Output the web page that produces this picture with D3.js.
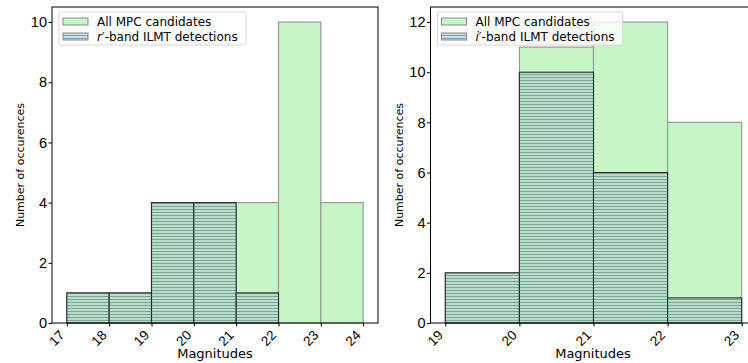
<!DOCTYPE html>
<html>
<head>
<meta charset="utf-8">
<script src="https://cdn.jsdelivr.net/npm/d3@7"></script>
<style>
  body { margin: 0; background: #fff; }
  svg { display: block; font-family: "DejaVu Sans", sans-serif; }
</style>
</head>
<body>
<svg id="chart" width="748" height="363"></svg>
<script>
// r'-band panel: bin edges and counts
const rEdges = [17, 18, 19, 20, 21, 22, 23, 24];
const rAllMPC = [1, 1, 4, 4, 4, 10, 4];
const rILMT = [1, 1, 4, 4, 1, 0, 0];
const rYTicks = [0, 2, 4, 6, 8, 10];

// i'-band panel: bin edges and counts
const iEdges = [19, 20, 21, 22, 23];
const iAllMPC = [2, 11, 12, 8];
const iILMT = [2, 10, 6, 1];
const iYTicks = [0, 2, 4, 6, 8, 10, 12];

const svg = d3.select("#chart");

// horizontal hatch used for the ILMT detection bars
const defs = svg.append("defs");
const pat = defs.append("pattern")
  .attr("id", "hhatch")
  .attr("patternUnits", "userSpaceOnUse")
  .attr("width", 6).attr("height", 3);
pat.append("rect").attr("width", 6).attr("height", 3).attr("fill", "#b5ddc9");
pat.append("rect").attr("y", 2).attr("width", 6).attr("height", 1).attr("fill", "#80a796");

const legPat = defs.append("pattern")
  .attr("id", "lhatch")
  .attr("patternUnits", "userSpaceOnUse")
  .attr("width", 6).attr("height", 3);
legPat.append("rect").attr("width", 6).attr("height", 3).attr("fill", "#c9dde8");
legPat.append("rect").attr("y", 2).attr("width", 6).attr("height", 1).attr("fill", "#8aa3b3");

function panel(opts) {
  const { left, right, top, bottom, edges, all, ilmt, yTicks, yMax, band } = opts;
  const lo = edges[0], hi = edges[edges.length - 1];
  const pad = (hi - lo) * 0.05;
  const x = d3.scaleLinear().domain([lo - pad, hi + pad]).range([left, right]);
  const y = d3.scaleLinear().domain([0, yMax]).range([bottom, top]);
  const g = svg.append("g");

  const bins = all.map((v, i) => ({ x0: edges[i], x1: edges[i + 1], v }));
  const dbins = ilmt.map((v, i) => ({ x0: edges[i], x1: edges[i + 1], v })).filter(d => d.v > 0);

  g.selectAll("rect.all").data(bins).enter().append("rect")
    .attr("class", "all")
    .attr("x", d => x(d.x0)).attr("width", d => x(d.x1) - x(d.x0))
    .attr("y", d => y(d.v)).attr("height", d => y(0) - y(d.v))
    .attr("fill", "#c6f5c6")
    .attr("stroke", "#9a9a9a").attr("stroke-width", 1.2);

  g.selectAll("rect.det").data(dbins).enter().append("rect")
    .attr("class", "det")
    .attr("x", d => x(d.x0)).attr("width", d => x(d.x1) - x(d.x0))
    .attr("y", d => y(d.v)).attr("height", d => y(0) - y(d.v))
    .attr("fill", "url(#hhatch)")
    .attr("stroke", "#2b2b2b").attr("stroke-width", 1.1);

  // frame
  g.append("rect")
    .attr("x", left).attr("y", top)
    .attr("width", right - left).attr("height", bottom - top)
    .attr("fill", "none").attr("stroke", "#000").attr("stroke-width", 1);

  // x axis
  const xa = g.append("g").attr("transform", `translate(0,${bottom})`)
    .call(d3.axisBottom(x).tickValues(edges).tickFormat(d3.format("d")).tickSizeOuter(0).tickSize(3.5));
  xa.select(".domain").remove();
  xa.selectAll("text")
    .attr("font-size", 13.5).attr("fill", "#000")
    .attr("text-anchor", "end")
    .attr("dy", 0).attr("y", 0)
    .attr("transform", "translate(-2,13) rotate(-45)");

  // y axis
  const ya = g.append("g").attr("transform", `translate(${left},0)`)
    .call(d3.axisLeft(y).tickValues(yTicks).tickFormat(d3.format("d")).tickSizeOuter(0).tickSize(3.5));
  ya.select(".domain").remove();
  ya.selectAll("text").attr("font-size", 14.5).attr("fill", "#000").attr("x", -5);

  // axis titles
  g.append("text")
    .attr("x", opts.titleX)
    .attr("y", 358).attr("text-anchor", "middle")
    .attr("font-size", 13).text("Magnitudes");
  g.append("text")
    .attr("transform", `translate(${left - 28},${(top + bottom) / 2}) rotate(-90)`)
    .attr("text-anchor", "middle").attr("font-size", 11)
    .text("Number of occurences");

  // legend
  const lx = left + 7, ly = top + 5, lw = opts.legendW;
  const lg = g.append("g");
  lg.append("rect").attr("x", lx).attr("y", ly).attr("width", lw).attr("height", 33)
    .attr("rx", 2).attr("fill", "#fff").attr("fill-opacity", 0.8)
    .attr("stroke", "#d6d6d6").attr("stroke-width", 1);
  lg.append("rect").attr("x", lx + 4).attr("y", ly + 6).attr("width", 25).attr("height", 7)
    .attr("fill", "#c6f5c6").attr("stroke", "#888").attr("stroke-width", 1);
  lg.append("rect").attr("x", lx + 4).attr("y", ly + 21).attr("width", 25).attr("height", 7)
    .attr("fill", "url(#lhatch)").attr("stroke", "#888").attr("stroke-width", 1);
  lg.append("text").attr("x", lx + 38).attr("y", ly + 13.5).attr("font-size", 12)
    .text("All MPC candidates");
  const t2 = lg.append("text").attr("x", lx + 38).attr("y", ly + 28.5).attr("font-size", 12);
  t2.append("tspan").attr("font-style", "italic").text(band);
  t2.append("tspan").text("\u2032-band ILMT detections");
}

panel({ left: 52, right: 378, top: 7, bottom: 323,
  edges: rEdges, all: rAllMPC, ilmt: rILMT, yTicks: rYTicks, yMax: 10.5,
  band: "r", legendW: 187, titleX: 215 });

panel({ left: 430.5, right: 756.5, top: 7, bottom: 323,
  edges: iEdges, all: iAllMPC, ilmt: iILMT, yTicks: iYTicks, yMax: 12.6,
  band: "i", legendW: 185, titleX: 593 });
</script>
</body>
</html>
